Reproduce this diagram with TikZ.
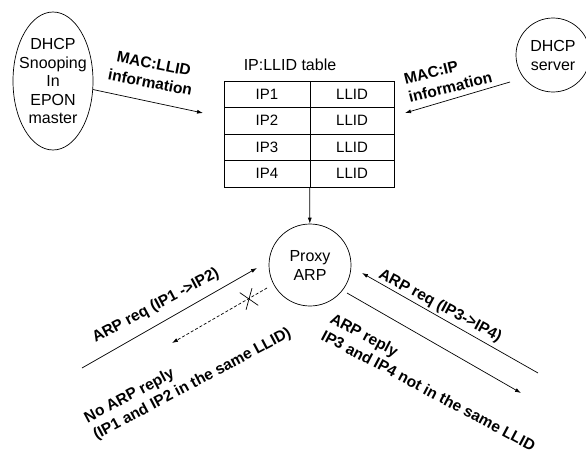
\documentclass[tikz,border=0pt]{standalone}
\usepackage{fontspec}
\setmainfont{Liberation Sans}
\usetikzlibrary{positioning,arrows.meta,shapes.geometric,shapes.misc}

\begin{document}
\begin{tikzpicture}[
    x=1pt, y=-1pt,
    >={Latex[length=6pt,width=4pt]},
    line width=0.7pt,
    cell/.style={rectangle, draw, minimum height=26.5pt, inner sep=0pt, font=\fontsize{15}{18}\selectfont},
    agent/.style={circle, draw, inner sep=0pt, align=center, font=\fontsize{16}{19}\selectfont},
    msg/.style={inner sep=0pt, font=\bfseries\fontsize{15.5}{19}\selectfont}
]
\useasboundingbox (0,0) rectangle (586,452);

% sources and proxy
\node[ellipse, draw, minimum width=80pt, minimum height=138pt, inner sep=0pt,
      label={[align=center, font=\fontsize{16}{18.5}\selectfont]center:DHCP\\Snooping\\In\\EPON\\master}] (snoop) at (53,81) {};
\node[agent, minimum size=74pt] (server) at (553,55) {DHCP\\server};
\node[agent, minimum size=82pt] (proxy) at (310,265) {Proxy\\ARP};

% IP:LLID table
\node[font=\fontsize{16}{19}\selectfont] (caption) at (290,65) {IP:LLID table};
\foreach \i in {1,...,4} {
    \node[cell, minimum width=86pt] (ip\i) at (267, 67.75+26.5*\i) {IP\i};
    \node[cell, minimum width=84pt] (llid\i) at (352, 67.75+26.5*\i) {LLID};
}

% feeding the table
\coordinate (macin) at (203,113);
\draw[->] (snoop) -- (macin);
\node[msg, align=center, rotate=-11] (maclabel) at (152,73) {MAC:LLID\\information};

\coordinate (ipout) at (510,82);
\coordinate (ipin) at (405,113);
\draw[->] (ipout) -- (ipin);
\node[msg, align=left, rotate=14] (iplabel) at (448,78) {MAC:IP\\information};

\draw[->] (llid4.south west) -- (proxy);

% left side: same LLID, no reply
\coordinate (reqAfrom) at (82,368);
\coordinate (reqAto) at (257,268);
\draw[->] (reqAfrom) -- (reqAto);
\node[msg, rotate=28] (reqAlabel) at (156,306) {ARP req (IP1 ->IP2)};

\coordinate (noreplyfrom) at (267,288);
\coordinate (noreplyto) at (172,343);
\draw[->, dash pattern=on 3pt off 2pt] (noreplyfrom) -- (noreplyto);
\node[cross out, draw, minimum width=17.6pt, minimum height=12.3pt, inner sep=0pt, rotate=-70] (block) at (249,299) {};
\node[msg, align=left, rotate=28] (noreplylabel) at (188,376) {No ARP reply\\(IP1 and IP2 in the same LLID)};

% right side: different LLID, reply
\coordinate (reqBfrom) at (538,373);
\coordinate (reqBto) at (362,273);
\draw[->] (reqBfrom) -- (reqBto);
\node[msg, rotate=-28] (reqBlabel) at (440,306) {ARP req (IP3->IP4)};

\coordinate (replyfrom) at (347,293);
\coordinate (replyto) at (521,393);
\draw[->] (replyfrom) -- (replyto);
\node[msg, align=left, rotate=-28] (replylabel) at (433,382) {ARP reply\\IP3 and IP4 not in the same LLID};
\end{tikzpicture}
\end{document}
